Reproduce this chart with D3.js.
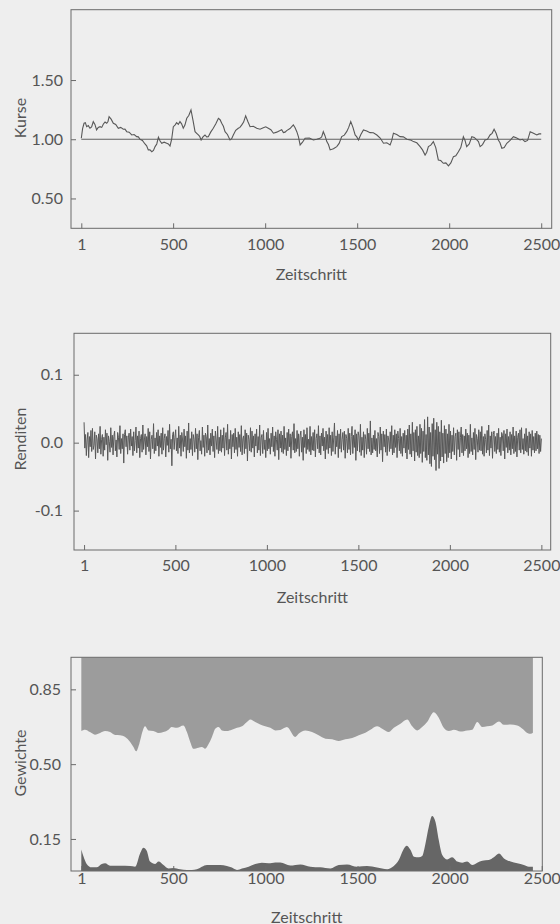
<!DOCTYPE html>
<html><head><meta charset="utf-8">
<script src="https://cdn.jsdelivr.net/npm/d3@7"></script>
<style>
html,body{margin:0;padding:0;background:#eeeeee;}
svg{display:block;}
text{font-family:Lato,"Open Sans",sans-serif;fill:#555;}
</style></head>
<body>
<svg id="c" width="560" height="924"></svg>
<script>
// ---- data ----
const xTicks = [1, 500, 1000, 1500, 2000, 2500];
const kursTicks = [0.5, 1.0, 1.5];
const renditeTicks = [-0.1, 0.0, 0.1];
const gewichtTicks = [0.15, 0.50, 0.85];

const kursT = [1,8,16,23,30,39,48,57,66,75,84,93,103,112,121,130,139,146,152,163,175,188,202,215,229,238,248,261,275,288,302,311,320,333,347,356,365,374,384,393,402,411,420,429,438,451,465,474,483,492,501,510,519,528,537,546,555,564,574,585,597,608,619,628,637,644,652,662,673,682,691,704,718,732,746,755,764,773,782,795,809,818,827,840,854,863,873,883,894,906,918,936,954,972,990,1003,1017,1031,1045,1063,1081,1090,1099,1108,1117,1135,1153,1162,1172,1181,1190,1203,1217,1240,1262,1280,1298,1307,1316,1325,1335,1344,1353,1371,1389,1402,1416,1430,1443,1454,1465,1477,1489,1498,1507,1520,1534,1552,1570,1588,1607,1625,1643,1661,1679,1688,1697,1715,1733,1751,1770,1788,1806,1824,1842,1855,1869,1878,1887,1900,1914,1927,1941,1954,1968,1982,1996,2009,2023,2036,2050,2063,2077,2086,2095,2109,2123,2136,2150,2159,2168,2181,2195,2208,2222,2233,2244,2255,2267,2276,2286,2299,2313,2331,2349,2367,2385,2398,2412,2426,2440,2458,2476,2488,2500];
const kursV = [1.008,1.09,1.135,1.14,1.106,1.115,1.093,1.105,1.149,1.125,1.079,1.10,1.106,1.10,1.129,1.145,1.135,1.15,1.191,1.17,1.135,1.125,1.093,1.10,1.084,1.085,1.064,1.06,1.036,1.04,1.022,1.02,1.000,0.99,0.960,0.945,0.910,0.91,0.895,0.905,0.938,0.96,1.017,0.985,0.966,0.975,0.966,0.96,0.943,1.00,1.106,1.12,1.140,1.125,1.149,1.13,1.093,1.12,1.177,1.20,1.247,1.16,1.064,1.05,1.036,1.025,0.994,1.02,1.036,1.02,1.022,1.06,1.093,1.13,1.177,1.165,1.135,1.11,1.064,1.04,0.994,1.005,1.036,1.075,1.093,1.10,1.121,1.145,1.197,1.15,1.106,1.11,1.093,1.085,1.098,1.105,1.093,1.08,1.051,1.06,1.073,1.08,1.056,1.06,1.073,1.09,1.121,1.10,1.064,1.02,0.952,0.975,1.008,1.01,0.994,1.0,1.008,1.02,1.064,1.03,0.980,0.955,0.910,0.92,0.938,0.965,1.022,1.035,1.064,1.10,1.149,1.10,1.036,1.02,0.994,1.04,1.079,1.07,1.056,1.055,1.036,1.01,0.966,0.97,0.952,0.99,1.051,1.04,1.022,1.02,1.000,0.995,0.980,0.97,0.938,0.91,0.867,0.89,0.938,0.95,0.980,0.93,0.825,0.82,0.797,0.80,0.775,0.80,0.853,0.86,0.895,0.93,1.022,0.99,0.938,0.96,1.022,1.015,0.994,0.98,0.938,0.955,0.994,1.0,1.036,1.05,1.084,1.05,0.994,0.97,0.924,0.93,0.966,0.99,1.022,1.01,0.994,1.0,0.980,0.99,1.064,1.05,1.036,1.045,1.045];

const renditenV = [
0.030,-0.008,0.012,-0.019,0.004,0.015,-0.022,0.009,-0.006,0.018,-0.013,0.021,-0.010,-0.004,0.016,-0.024,0.011,0.006,-0.015,0.013,
-0.009,0.024,-0.017,0.005,0.012,-0.020,0.008,-0.011,0.019,-0.003,0.014,-0.026,0.010,0.002,-0.014,0.022,-0.007,0.011,-0.018,0.009,
0.017,-0.012,0.004,-0.021,0.015,0.008,-0.010,0.025,-0.016,0.006,-0.009,0.013,-0.030,0.012,0.019,-0.006,0.010,-0.017,0.007,0.014,
-0.011,0.020,-0.005,0.009,-0.019,0.016,-0.012,0.003,0.023,-0.015,0.010,-0.008,0.017,-0.022,0.006,0.012,-0.014,0.026,-0.010,0.004,
0.013,-0.018,0.009,-0.006,0.021,-0.013,0.016,-0.024,0.005,0.011,-0.009,0.028,-0.016,0.007,-0.012,0.015,-0.005,0.019,-0.020,0.010,
-0.007,0.014,-0.017,0.022,-0.011,0.006,0.013,-0.021,0.009,-0.004,0.018,-0.014,0.027,-0.009,0.005,-0.034,0.012,0.016,-0.010,0.008,
0.019,-0.012,0.007,-0.016,0.024,-0.008,0.011,-0.020,0.015,0.004,-0.013,0.020,-0.006,0.010,-0.023,0.017,-0.011,0.029,-0.015,0.006,
-0.010,0.016,-0.019,0.012,0.005,-0.014,0.021,-0.009,0.013,-0.025,0.008,0.018,-0.012,0.003,-0.017,0.023,-0.007,0.011,-0.020,0.014,
0.009,-0.015,0.026,-0.011,0.006,-0.018,0.014,-0.005,0.020,-0.013,0.010,-0.022,0.017,0.004,-0.010,0.024,-0.016,0.008,-0.012,0.019,
-0.014,0.011,-0.008,0.022,-0.019,0.007,0.015,-0.011,0.027,-0.017,0.005,-0.009,0.018,-0.024,0.012,-0.006,0.014,-0.015,0.021,-0.010,
0.008,-0.020,0.016,-0.007,0.012,-0.013,0.025,-0.018,0.006,0.010,-0.016,0.019,-0.009,0.014,-0.027,0.011,0.005,-0.012,0.022,-0.014,
0.017,-0.008,0.010,-0.021,0.013,-0.005,0.020,-0.015,0.009,-0.011,0.026,-0.019,0.007,0.012,-0.016,0.018,-0.010,0.004,-0.022,0.015,
-0.012,0.021,-0.009,0.006,-0.017,0.014,-0.006,0.023,-0.013,0.010,-0.020,0.016,0.005,-0.011,0.019,-0.025,0.013,-0.008,0.017,-0.014,
0.011,-0.016,0.024,-0.010,0.007,-0.019,0.015,-0.012,0.020,-0.006,0.013,-0.023,0.009,0.016,-0.011,0.028,-0.015,0.006,-0.013,0.018,
-0.009,0.013,-0.020,0.010,0.017,-0.014,0.008,-0.026,0.019,-0.007,0.012,-0.016,0.022,-0.010,0.005,-0.013,0.024,-0.018,0.009,-0.011,
0.015,-0.012,0.019,-0.021,0.006,0.013,-0.009,0.025,-0.015,0.010,-0.018,0.014,-0.005,0.021,-0.012,0.008,-0.024,0.017,-0.010,0.012,
-0.016,0.022,-0.008,0.011,-0.019,0.016,-0.013,0.007,0.029,-0.017,0.010,-0.006,0.018,-0.022,0.013,-0.009,0.020,-0.014,0.005,0.015,
-0.011,0.017,-0.023,0.012,0.006,-0.015,0.021,-0.010,0.014,-0.018,0.009,0.024,-0.016,0.011,-0.007,0.019,-0.026,0.013,-0.012,0.016,
0.010,-0.014,0.027,-0.019,0.008,-0.011,0.016,-0.022,0.012,0.005,-0.017,0.021,-0.009,0.014,-0.013,0.032,-0.018,0.007,-0.015,0.011,
-0.010,0.018,-0.012,0.006,-0.021,0.015,0.009,-0.016,0.023,-0.011,0.013,-0.028,0.017,-0.006,0.012,-0.014,0.020,-0.019,0.010,0.004,
-0.013,0.016,-0.009,0.025,-0.018,0.011,-0.015,0.019,-0.007,0.013,-0.022,0.017,0.006,-0.012,0.021,-0.016,0.009,-0.020,0.014,-0.008,
0.018,-0.015,0.011,-0.024,0.020,-0.010,0.026,-0.017,0.013,-0.021,0.030,-0.012,0.015,-0.027,0.019,-0.014,0.024,-0.019,0.010,-0.022,
0.027,-0.016,0.021,-0.029,0.017,-0.013,0.034,-0.022,0.012,-0.026,0.038,-0.018,0.023,-0.031,0.015,-0.035,0.028,-0.020,0.036,-0.025,
0.019,-0.041,0.030,-0.017,0.024,-0.038,0.016,-0.027,0.033,-0.021,0.014,-0.030,0.025,-0.016,0.020,-0.028,0.013,-0.022,0.027,-0.015,
0.017,-0.024,0.011,-0.013,0.022,-0.018,0.009,0.014,-0.026,0.019,-0.010,0.016,-0.021,0.008,0.023,-0.015,0.012,-0.019,0.010,-0.012,
0.020,-0.009,0.014,-0.022,0.011,-0.016,0.027,-0.013,0.007,-0.018,0.015,-0.010,0.021,-0.025,0.012,0.006,-0.014,0.019,-0.011,0.016,
-0.012,0.024,-0.017,0.009,-0.020,0.013,0.005,-0.015,0.018,-0.011,0.026,-0.019,0.010,-0.008,0.016,-0.023,0.012,0.017,-0.013,0.009,
-0.016,0.014,-0.010,0.021,-0.014,0.008,-0.019,0.015,0.011,-0.012,0.018,-0.024,0.013,-0.007,0.020,-0.015,0.009,-0.011,0.016,-0.018,
0.012,-0.009,0.023,-0.016,0.010,-0.013,0.017,-0.021,0.008,0.014,-0.011,0.019,-0.015,0.022,-0.010,0.006,-0.017,0.013,-0.012,0.021,
-0.014,0.010,-0.019,0.016,-0.008,0.013,-0.020,0.018,-0.011,0.009,-0.015,0.014,-0.012,0.017,-0.009,0.012,-0.016,0.011,-0.013,0.006
];
const renditenT = renditenV.map((v, i) => 1 + i * 2499 / (renditenV.length - 1));

const oberT = [1,21,48,75,103,130,157,185,211,239,266,284,298,316,335,347,365,392,420,447,474,492,519,555,574,592,610,637,655,673,691,710,728,746,764,791,818,846,873,900,918,945,972,999,1027,1054,1081,1117,1162,1180,1217,1253,1289,1326,1362,1398,1434,1471,1507,1543,1579,1606,1634,1670,1697,1733,1770,1797,1824,1851,1878,1914,1941,1968,1996,2023,2059,2095,2123,2150,2177,2204,2232,2268,2295,2331,2367,2395,2422,2440,2452];
const oberV = [0.655,0.661,0.650,0.638,0.646,0.655,0.650,0.636,0.635,0.627,0.604,0.580,0.560,0.596,0.658,0.677,0.658,0.655,0.646,0.650,0.661,0.674,0.670,0.681,0.650,0.604,0.572,0.577,0.580,0.572,0.593,0.627,0.666,0.674,0.658,0.655,0.661,0.670,0.677,0.697,0.709,0.697,0.686,0.677,0.670,0.658,0.660,0.674,0.627,0.642,0.658,0.650,0.635,0.619,0.616,0.608,0.616,0.622,0.635,0.647,0.666,0.677,0.666,0.650,0.670,0.689,0.709,0.677,0.658,0.674,0.697,0.743,0.717,0.670,0.655,0.661,0.653,0.658,0.661,0.697,0.674,0.677,0.681,0.700,0.684,0.686,0.681,0.666,0.646,0.642,0.647];

const unterT = [1,12,30,57,84,112,130,157,211,266,293,320,338,356,374,402,420,447,474,501,537,574,601,628,655,683,718,755,791,818,846,873,909,945,981,1017,1054,1081,1135,1190,1244,1298,1353,1398,1443,1498,1552,1606,1661,1697,1724,1748,1766,1788,1806,1833,1851,1869,1887,1905,1923,1941,1960,1987,2014,2041,2068,2095,2123,2150,2177,2213,2240,2268,2295,2331,2367,2403,2430,2452];
const unterV = [0.101,0.070,0.033,0.017,0.017,0.033,0.036,0.025,0.025,0.023,0.020,0.082,0.109,0.095,0.044,0.033,0.044,0.028,0.012,0.014,0.008,0.005,0.005,0.008,0.020,0.028,0.028,0.028,0.023,0.016,0.005,0.012,0.020,0.033,0.039,0.036,0.040,0.040,0.026,0.031,0.020,0.017,0.012,0.028,0.031,0.020,0.023,0.016,0.008,0.023,0.051,0.098,0.118,0.098,0.067,0.064,0.070,0.129,0.207,0.257,0.230,0.145,0.075,0.054,0.064,0.044,0.039,0.044,0.028,0.039,0.048,0.051,0.064,0.082,0.059,0.044,0.036,0.028,0.020,0.020];

// ---- drawing ----
const svg = d3.select('#c');
const FS = 16;
const frameColor = '#6a6a6a';
const zipPairs = (a, b) => a.slice(0, Math.min(a.length, b.length)).map((t, i) => [t, b[i]]);
const hyphen = f => d => f(d).replace('\u2212', '-');

function panel(cfg) {
  const x = d3.scaleLinear().domain(cfg.xDom).range([cfg.x0, cfg.x1]);
  const y = d3.scaleLinear().domain(cfg.yDom).range([cfg.y1, cfg.y0]);
  const g = svg.append('g');
  const clipId = 'clip' + cfg.id;
  svg.append('clipPath').attr('id', clipId).append('rect')
    .attr('x', cfg.x0).attr('y', cfg.y0).attr('width', cfg.x1 - cfg.x0).attr('height', cfg.y1 - cfg.y0);
  const body = g.append('g').attr('clip-path', `url(#${clipId})`);
  cfg.draw(body, x, y);
  g.append('rect').attr('x', cfg.x0).attr('y', cfg.y0).attr('width', cfg.x1 - cfg.x0).attr('height', cfg.y1 - cfg.y0)
    .attr('fill', 'none').attr('stroke', frameColor).attr('stroke-width', 1);
  const xa = g.append('g').attr('transform', `translate(0,${cfg.y1})`)
    .call(d3.axisBottom(x).tickValues(xTicks).tickSizeInner(-5).tickSizeOuter(0).tickPadding(cfg.xPad).tickFormat(d3.format('d')));
  xa.select('.domain').remove();
  xa.selectAll('line').attr('stroke', frameColor);
  xa.selectAll('text').attr('font-size', FS).attr('fill', '#555').style('font-family', 'Lato, sans-serif');
  const ya = g.append('g').attr('transform', `translate(${cfg.x0},0)`)
    .call(d3.axisLeft(y).tickValues(cfg.yTicks).tickSizeInner(-5).tickSizeOuter(0).tickPadding(cfg.yPad).tickFormat(cfg.yFmt));
  ya.select('.domain').remove();
  ya.selectAll('line').attr('stroke', frameColor);
  ya.selectAll('text').attr('font-size', FS).attr('fill', '#555').style('font-family', 'Lato, sans-serif');
  g.append('text').attr('x', (cfg.x0 + cfg.x1) / 2).attr('y', cfg.xLabY).attr('text-anchor', 'middle')
    .attr('dominant-baseline', 'central').attr('font-size', FS).text('Zeitschritt');
  g.append('text').attr('transform', `translate(19,${cfg.yLabY}) rotate(-90)`).attr('text-anchor', 'middle')
    .attr('dominant-baseline', 'central').attr('font-size', FS).text(cfg.yLabel);
}

// Top: Kurse
panel({
  id: 1, x0: 71, x1: 551.7, y0: 9.7, y1: 228.3, xDom: [-55, 2557], yDom: [0.248, 2.094],
  yTicks: kursTicks, yFmt: d3.format('.2f'), xPad: 10, yPad: 8, xLabY: 273, yLabY: 118, yLabel: 'Kurse',
  draw: (b, x, y) => {
    b.append('line').attr('x1', x(1)).attr('x2', x(2500)).attr('y1', y(1)).attr('y2', y(1))
      .attr('stroke', '#606060').attr('stroke-width', 1.2);
    b.append('path').datum(zipPairs(kursT, kursV))
      .attr('d', d3.line().x(d => x(d[0])).y(d => y(d[1])))
      .attr('fill', 'none').attr('stroke', '#585858').attr('stroke-width', 1.1);
  }
});

// Middle: Renditen
panel({
  id: 2, x0: 74, x1: 550.7, y0: 333.3, y1: 550, xDom: [-54, 2551], yDom: [-0.158, 0.161],
  yTicks: renditeTicks, yFmt: hyphen(d3.format('.1f')), xPad: 10, yPad: 11, xLabY: 596, yLabY: 439, yLabel: 'Renditen',
  draw: (b, x, y) => {
    b.append('path').datum(zipPairs(renditenT, renditenV))
      .attr('d', d3.line().x(d => x(d[0])).y(d => y(d[1])))
      .attr('fill', 'none').attr('stroke', '#585858').attr('stroke-width', 1);
  }
});

// Bottom: Gewichte
panel({
  id: 3, x0: 71, x1: 542.3, y0: 657.3, y1: 871, xDom: [-55, 2503], yDom: [0, 1],
  yTicks: gewichtTicks, yFmt: d3.format('.2f'), xPad: 2, yPad: 10, xLabY: 916, yLabY: 763, yLabel: 'Gewichte',
  draw: (b, x, y) => {
    b.append('path').datum(zipPairs(oberT, oberV))
      .attr('d', d3.area().x(d => x(d[0])).y0(y(1)).y1(d => y(d[1])).curve(d3.curveMonotoneX))
      .attr('fill', '#9c9c9c');
    b.append('path').datum(zipPairs(unterT, unterV))
      .attr('d', d3.area().x(d => x(d[0])).y0(y(0)).y1(d => y(d[1])).curve(d3.curveMonotoneX))
      .attr('fill', '#666666');
  }
});
</script>
</body></html>
